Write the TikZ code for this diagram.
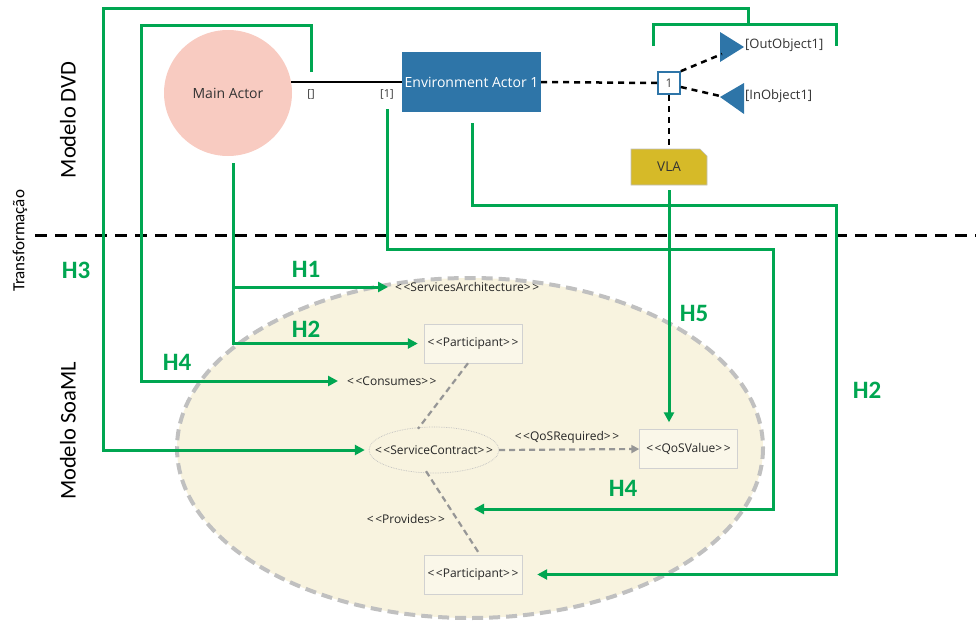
\documentclass[tikz,border=0pt]{standalone}
\usepackage{fontspec}
\setmainfont{Open Sans}
\newfontfamily\calib{Carlito}
\usetikzlibrary{arrows.meta,shapes.geometric}
\definecolor{grn}{RGB}{0,166,81}
\definecolor{actpink}{RGB}{248,203,193}
\definecolor{envblue}{RGB}{46,117,168}
\definecolor{vlay}{RGB}{214,186,40}
\definecolor{cream}{RGB}{248,243,223}
\definecolor{soagray}{RGB}{192,192,192}
\definecolor{lnkgray}{RGB}{150,150,150}
\newcommand\stereo[1]{<\kern1.5pt<#1>\kern1.5pt>}
\begin{document}
\begin{tikzpicture}[x=1pt,y=-1pt,
  grnline/.style={draw=grn,line width=3pt},
  garrow/.style={grnline,-{Triangle[length=10pt,width=10pt]}},
  hlabel/.style={text=grn,font=\calib\bfseries\fontsize{25}{25}\selectfont,inner sep=0pt},
  sidelabel/.style={rotate=90,font=\calib\fontsize{22.5}{24}\selectfont,inner sep=0pt},
  soatxt/.style={font=\fontsize{12}{14}\selectfont,text=black!85,inner sep=1pt},
  soabox/.style={soatxt,draw=black!18,fill=cream!70,minimum width=98pt,minimum height=39pt,inner sep=0pt},
  grayline/.style={draw=lnkgray,line width=2.2pt,dash pattern=on 6pt off 4pt},
  blkdash/.style={draw=black,line width=2.5pt,dash pattern=on 6pt off 5pt},
  smalltxt/.style={font=\fontsize{11}{13}\selectfont,text=black!80,inner sep=0pt}
]
\useasboundingbox (0,0) rectangle (976,621);

% SoaML background ellipse
\draw[draw=soagray,line width=4pt,dash pattern=on 11pt off 6pt,fill=cream] (470,448) ellipse [x radius=293,y radius=170];

% separator
\coordinate (sepL) at (35,235);
\coordinate (sepR) at (976,235);
\draw[line width=3pt,dash pattern=on 12pt off 8pt] (sepL) -- (sepR);

% side labels
\node[sidelabel] (lbldvd) at (68,120) {Modelo DVD};
\node[sidelabel] (lblsoa) at (68,431) {Modelo SoaML};
\node[rotate=90,font=\calib\fontsize{17}{18}\selectfont,inner sep=0pt] (lbltr) at (20,241) {Transformação};

% DVD model
\node[ellipse,fill=actpink,minimum width=128pt,minimum height=126pt,inner sep=0pt,font=\fontsize{14}{16}\selectfont,text=black!80] (main) at (228,93) {Main Actor};
\node[fill=envblue,text=white,minimum width=139pt,minimum height=60pt,inner sep=0pt,font=\fontsize{14}{16}\selectfont] (env) at (471.5,82) {Environment Actor 1};
\draw[line width=2.5pt] (main.10) -- (env.west |- main.10);
\node[smalltxt] (mulA) at (311,94) {[]};
\node[smalltxt] (mulB) at (387,94) {[1]};

\node[draw=envblue,line width=1.6pt,fill=white,minimum size=22pt,inner sep=0pt,font=\fontsize{12}{13}\selectfont,text=black!75] (one) at (669,83) {1};
\draw[blkdash] (env.east) -- (one.west);

% ports
\fill[envblue] (720,32) -- (744,47) -- (720,62) -- cycle;
\coordinate (outT) at (722,54);
\fill[envblue] (720,97) -- (744,83) -- (744,114) -- cycle;
\coordinate (inT) at (720,96);
\draw[blkdash] (one.north east) -- (outT);
\draw[blkdash] ([yshift=-4pt]one.east) -- (inT);
\node[smalltxt,anchor=west,font=\fontsize{13}{14}\selectfont] (outlbl) at (745,45) {[OutObject1]};
\node[smalltxt,anchor=west,font=\fontsize{13}{14}\selectfont] (inlbl) at (745,96) {[InObject1]};

% VLA
\fill[vlay,draw=black!25,line width=0.6pt] (631,149) -- (700,149) -- (707,156) -- (707,185) -- (631,185) -- cycle;
\node[minimum width=76pt,minimum height=36pt,inner sep=0pt,font=\fontsize{13.5}{15}\selectfont,text=black!80] (vla) at (669,167) {VLA};
\draw[blkdash] (one.south) -- (vla.north);

% SoaML elements
\node[soatxt,anchor=west] (sa) at (394,287) {\stereo{ServicesArchitecture}};
\node[soabox] (part1) at (473,343.5) {\stereo{Participant}};
\node[soatxt,anchor=west] (cons) at (346,381) {\stereo{Consumes}};
\draw[draw=black!25,densely dotted,line width=0.7pt] (434,450) ellipse [x radius=65,y radius=23];
\node[soatxt,minimum width=130pt,minimum height=46pt,inner sep=0pt] (sc) at (434,450) {\stereo{ServiceContract}};
\node[soabox] (qos) at (688.5,449) {\stereo{QoSValue}};
\node[soabox] (part2) at (473,574.5) {\stereo{Participant}};
\node[soatxt] (qosreq) at (567,437) {\stereo{QoSRequired}};
\node[soatxt] (prov) at (406,519) {\stereo{Provides}};

\draw[grayline] ([xshift=-5pt]part1.south) -- ([xshift=-16pt,yshift=-2pt]sc.north);
\draw[grayline] ([xshift=-8pt,yshift=2pt]sc.south) -- ([xshift=7pt]part2.north);
\draw[grayline,-{Triangle[length=8pt,width=8pt]}] (sc.east) -- (qos.west);

% green transformation links
\coordinate (brL) at (653,46);
\coordinate (brR) at (836,46);
\draw[grnline] (brL) -- (653,24) -- (836,24) -- (brR);
\coordinate (b0) at (748,24);
\draw[garrow,shorten >=4pt] (b0) -- (748,8) -- (103,8) |- (sc.west);

\coordinate (a0) at (311,72);
\draw[garrow,shorten >=8pt] (a0) -- (311,25) -- (141,25) |- (cons.west);

\coordinate (c0) at (233,163);
\draw[garrow,shorten >=6pt] (c0) |- (part1.west);
\draw[garrow,shorten >=6pt] (c0 |- sa.west) -- (sa.west);

\coordinate (d0) at (387,109);
\coordinate (d1) at (474,509);
\draw[garrow] (d0) -- (387,249) -- (773,249) |- (d1);

\coordinate (e0) at (472,123);
\draw[garrow,shorten >=15pt] (e0) -- (472,205) -- (836,205) |- (part2.east);

\coordinate (f0) at (669,190);
\draw[garrow,shorten >=7pt] (f0) -- (f0 |- qos.north);

% H labels
\node[hlabel] (h3) at (76,270) {H3};
\node[hlabel] (h1) at (306,269) {H1};
\node[hlabel] (h2a) at (306,329) {H2};
\node[hlabel] (h4a) at (177,362) {H4};
\node[hlabel] (h5) at (694,313) {H5};
\node[hlabel] (h4b) at (623,488) {H4};
\node[hlabel] (h2b) at (867,390) {H2};
\end{tikzpicture}
\end{document}
